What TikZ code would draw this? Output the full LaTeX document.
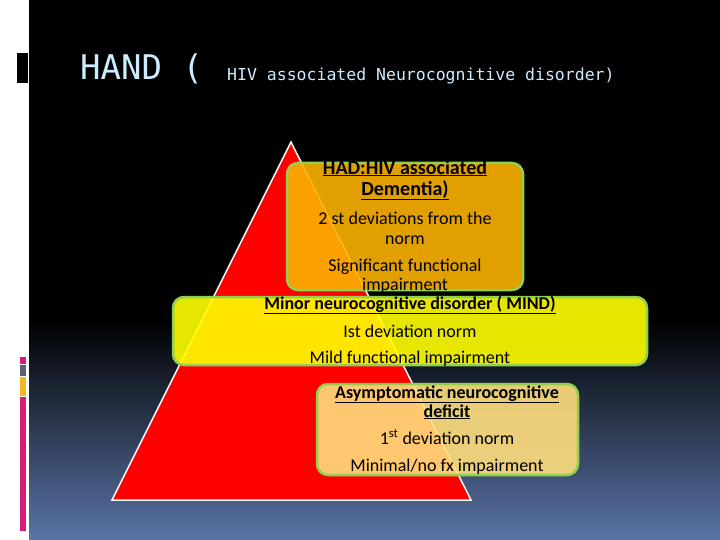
\documentclass[tikz,border=0pt]{standalone}
\usepackage{fontspec}
\setmainfont{Carlito}
\newfontfamily\headfont{DejaVu Sans Mono}
\usepackage{tikz}
\usetikzlibrary{calc}

\definecolor{headblue}{RGB}{204,236,255}
\definecolor{boxgreen}{RGB}{146,208,80}
\definecolor{hadorange}{RGB}{250,178,0}
\definecolor{mindyellow}{RGB}{255,255,0}
\definecolor{asymorange}{RGB}{255,222,125}
\definecolor{slideblue}{RGB}{90,116,166}
\definecolor{barpink}{RGB}{216,27,120}
\definecolor{bargrey}{RGB}{90,96,112}
\definecolor{baryellow}{RGB}{245,184,35}

\begin{document}
\begin{tikzpicture}[x=1pt,y=-1pt,
  levelbox/.style={draw=boxgreen, line width=2.5pt, rounded corners=11pt, fill opacity=0.9, inner sep=0pt},
  leveltext/.style={align=center, inner sep=0pt, font=\fontsize{18}{20}\selectfont}]

	\useasboundingbox (0,0) rectangle (720,540);
	% slide background
	\fill[white] (0,0) rectangle (720,540);
	\fill[black] (29,0) rectangle (720,321);
	\shade[top color=black, bottom color=slideblue] (29,320) rectangle (720,540);
	\fill[black] (17,53) rectangle (28,83);
	\fill[barpink]   (20,357) rectangle (26,364);
	\fill[bargrey]   (20,365) rectangle (26,376);
	\fill[baryellow] (20,377) rectangle (26,396);
	\fill[barpink]   (20,397) rectangle (26,531);

	% title
	\node[anchor=base west, inner sep=0pt, text=headblue, font=\headfont\fontsize{34}{34}\selectfont] (hand) at (80,80) {HAND (};
	\node[anchor=base west, inner sep=0pt, text=headblue, font=\headfont\fontsize{16.5}{16.5}\selectfont] (handfull) at (227,81) {HIV associated Neurocognitive disorder)};

	% pyramid
	\coordinate (apex)  at (291,142);
	\coordinate (right) at (471,500);
	\coordinate (left)  at (112,500);
	\draw[white, line width=1.5pt, fill=red] (apex) -- (right) -- (left) -- cycle;

	% HAD (base = last line)
	\node[levelbox, fill=hadorange, minimum width=236pt, minimum height=127pt] (hadbox) at (405,226.5) {};
	\node[leveltext, anchor=base] (hadtext) at (405,290)
	     {{\fontsize{20}{20}\selectfont\bfseries\underline{HAD:HIV associated}}\\[1pt]
	      {\fontsize{20}{20}\selectfont\bfseries\underline{Dementia)}}\\[9pt]
	      2 st deviations from the\\ norm\\[7pt]
	      Significant functional\\[-1pt] impairment};

	% MIND
	\node[levelbox, fill=mindyellow, minimum width=474pt, minimum height=68pt] (mindbox) at (410,331) {};
	\node[leveltext, anchor=base] (mindtext) at (410,363)
	     {\textbf{\underline{Minor neurocognitive disorder ( MIND)}}\\[8pt]
	      Ist deviation norm\\[6pt]
	      Mild functional impairment};

	% ANI
	\node[levelbox, fill=asymorange, minimum width=261pt, minimum height=91pt] (asymbox) at (447.5,429.5) {};
	\node[leveltext, anchor=base] (asymtext) at (447,471)
	     {\textbf{\underline{Asymptomatic neurocognitive}}\\[-1pt]
	      \textbf{\underline{deficit}}\\[7pt]
	      1\textsuperscript{st} deviation norm\\[7pt]
	      Minimal/no fx impairment};
\end{tikzpicture}
\end{document}
